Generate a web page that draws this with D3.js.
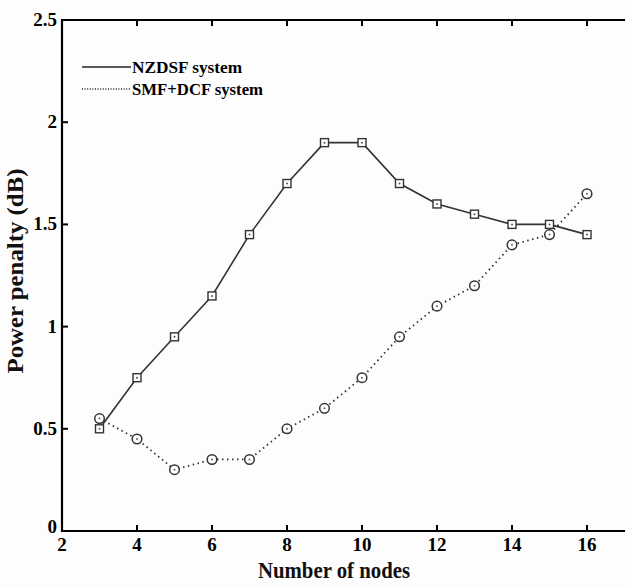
<!DOCTYPE html>
<html><head><meta charset="utf-8">
<script src="https://cdn.jsdelivr.net/npm/d3@7"></script>
<style>body{margin:0;background:#fdfdfd;}svg{display:block;}</style>
</head><body>
<script>
const nodes = [3,4,5,6,7,8,9,10,11,12,13,14,15,16];
const nzdsf = [0.5,0.75,0.95,1.15,1.45,1.7,1.9,1.9,1.7,1.6,1.55,1.5,1.5,1.45];
const smfdcf = [0.55,0.45,0.3,0.35,0.35,0.5,0.6,0.75,0.95,1.1,1.2,1.4,1.45,1.65];
const xTicks = [2,4,6,8,10,12,14,16];
const yTicks = [0,0.5,1,1.5,2,2.5];
const seriesNames = ["NZDSF system","SMF+DCF system"];

const W=625,H=587;
const svg=d3.select("body").append("svg").attr("width",W).attr("height",H);
svg.append("rect").attr("width",W).attr("height",H).attr("fill","#fdfdfd");
const x=d3.scaleLinear().domain([2,18]).range([62,662]);
const y=d3.scaleLinear().domain([0,2.5]).range([531,20]);
const font="'Liberation Serif','Times New Roman',serif";

// frame
const g=svg.append("g");
g.append("line").attr("x1",62).attr("x2",W).attr("y1",y(0)).attr("y2",y(0)).attr("stroke","#000").attr("stroke-width",2.2);
g.append("line").attr("x1",62).attr("x2",W).attr("y1",y(2.5)).attr("y2",y(2.5)).attr("stroke","#000").attr("stroke-width",2.2);
g.append("line").attr("x1",x(2)).attr("x2",x(2)).attr("y1",y(0)+1).attr("y2",y(2.5)-1).attr("stroke","#000").attr("stroke-width",2.2);

// ticks
xTicks.slice(1).forEach(t=>{
  g.append("line").attr("x1",x(t)).attr("x2",x(t)).attr("y1",y(0)).attr("y2",y(0)-6).attr("stroke","#000").attr("stroke-width",2);
  g.append("line").attr("x1",x(t)).attr("x2",x(t)).attr("y1",y(2.5)).attr("y2",y(2.5)+6).attr("stroke","#000").attr("stroke-width",2);
});
yTicks.slice(1,-1).forEach(t=>{
  g.append("line").attr("x1",x(2)).attr("x2",x(2)+6).attr("y1",y(t)).attr("y2",y(t)).attr("stroke","#000").attr("stroke-width",2);
});
// tick labels
xTicks.forEach(t=>{
  svg.append("text").attr("x",x(t)).attr("y",551).attr("text-anchor","middle")
    .attr("font-family",font).attr("font-weight","bold").attr("font-size",19).text(t);
});
yTicks.forEach(t=>{
  svg.append("text").attr("x",57).attr("y",y(t)+(t===0?2:6)).attr("text-anchor","end")
    .attr("font-family",font).attr("font-weight","bold").attr("font-size",19).text(t);
});
// axis titles
svg.append("text").attr("x",334).attr("y",578).attr("text-anchor","middle")
  .attr("font-family",font).attr("font-size",23).attr("font-weight","600").attr("fill","#111")
  .attr("textLength",152).attr("lengthAdjust","spacingAndGlyphs").text("Number of nodes");
svg.append("text").attr("transform","translate(23,271) rotate(-90)").attr("text-anchor","middle")
  .attr("font-family",font).attr("font-size",23).attr("font-weight","600").attr("fill","#111")
  .attr("textLength",205).attr("lengthAdjust","spacingAndGlyphs").text("Power penalty (dB)");

// lines
const line=d3.line().x((d,i)=>x(nodes[i])).y(d=>y(d));
svg.append("path").datum(nzdsf).attr("d",line).attr("fill","none").attr("stroke","#333").attr("stroke-width",1.6);
svg.append("path").datum(smfdcf).attr("d",line).attr("fill","none").attr("stroke","#333").attr("stroke-width",1.8).attr("stroke-dasharray","1.5,3.5");

// markers
nzdsf.forEach((v,i)=>{
  svg.append("rect").attr("x",x(nodes[i])-4).attr("y",y(v)-4).attr("width",8).attr("height",8)
    .attr("fill","#fff").attr("stroke","#333").attr("stroke-width",1.4);
  svg.append("circle").attr("cx",x(nodes[i])).attr("cy",y(v)).attr("r",1).attr("fill","#555");
});
smfdcf.forEach((v,i)=>{
  svg.append("circle").attr("cx",x(nodes[i])).attr("cy",y(v)).attr("r",4.8)
    .attr("fill","#fff").attr("stroke","#333").attr("stroke-width",1.5);
  svg.append("circle").attr("cx",x(nodes[i])).attr("cy",y(v)).attr("r",1).attr("fill","#666");
});

// legend
svg.append("line").attr("x1",82).attr("x2",131).attr("y1",67).attr("y2",67).attr("stroke","#222").attr("stroke-width",1.5);
svg.append("line").attr("x1",82).attr("x2",131).attr("y1",89).attr("y2",89).attr("stroke","#222").attr("stroke-width",1.3).attr("stroke-dasharray","1,1.6");
svg.append("text").attr("x",132).attr("y",73).attr("font-family",font).attr("font-weight","bold").attr("font-size",17)
  .attr("textLength",110).attr("lengthAdjust","spacingAndGlyphs").text(seriesNames[0]);
svg.append("text").attr("x",132).attr("y",95).attr("font-family",font).attr("font-weight","bold").attr("font-size",17)
  .attr("textLength",131).attr("lengthAdjust","spacingAndGlyphs").text(seriesNames[1]);
</script>
</body></html>
